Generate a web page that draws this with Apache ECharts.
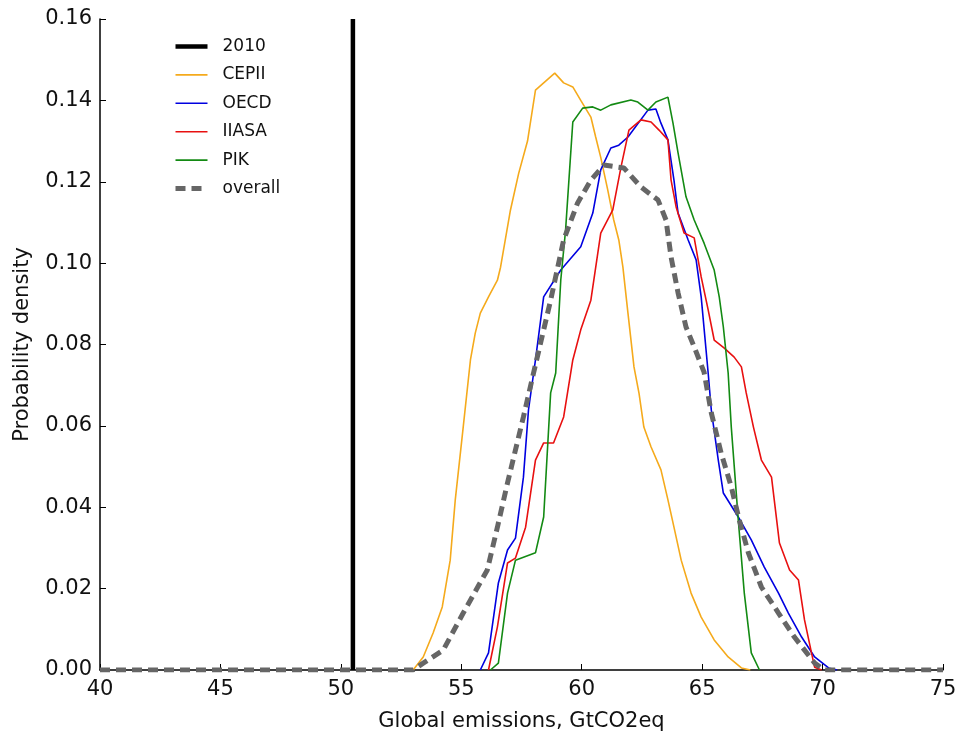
<!DOCTYPE html>
<html>
<head>
<meta charset="utf-8">
<script src="https://cdn.jsdelivr.net/npm/echarts@6/dist/echarts.min.js"></script>
<style>
html,body{margin:0;padding:0;background:#fff;}
#chart{width:960px;height:739px;}
</style>
</head>
<body>
<div id="chart"></div>
<script>
// Data: [emissions GtCO2eq, probability density]
const seriesNames = ['2010', 'CEPII', 'OECD', 'IIASA', 'PIK', 'overall'];
const xTicks = [40, 45, 50, 55, 60, 65, 70, 75];
const yTicks = [0, 0.02, 0.04, 0.06, 0.08, 0.10, 0.12, 0.14, 0.16];

const line2010 = [[50.5, 0], [50.5, 0.16]];

const cepii = [
  [53.0,0],[53.42,0.0032],[53.83,0.0091],[54.21,0.0155],[54.54,0.027],[54.75,0.0418],
  [55.08,0.0597],[55.38,0.0762],[55.58,0.0828],[55.79,0.0877],[56.13,0.0917],[56.5,0.0958],
  [56.63,0.099],[57.04,0.113],[57.38,0.122],[57.75,0.130],[58.08,0.1425],[58.88,0.1467],
  [59.25,0.1443],[59.63,0.1433],[59.96,0.140],[60.38,0.1359],[60.58,0.131],[60.79,0.126],
  [61.08,0.118],[61.33,0.1106],[61.54,0.1057],[61.71,0.099],[61.92,0.0877],[62.17,0.0745],
  [62.38,0.068],[62.58,0.0597],[62.88,0.0548],[63.29,0.0492],[63.58,0.0418],[63.83,0.0351],
  [64.13,0.027],[64.54,0.0189],[64.96,0.013],[65.5,0.0074],[66.08,0.0032],[66.63,0.0005],[67.0,0]
];

const oecd = [
  [55.79,0],[56.13,0.0042],[56.54,0.0214],[56.92,0.0295],[57.25,0.0324],[57.58,0.0474],
  [57.79,0.0639],[58.08,0.0762],[58.42,0.0917],[59.13,0.0983],[59.96,0.104],[60.46,0.1123],
  [60.79,0.1229],[61.21,0.1283],[61.54,0.129],[61.92,0.131],[62.75,0.1376],[63.08,0.1379],
  [63.29,0.1344],[63.58,0.1303],[63.83,0.1204],[64.0,0.1123],[64.42,0.1057],[64.75,0.1008],
  [64.96,0.0917],[65.25,0.073],[65.38,0.0639],[65.67,0.0516],[65.88,0.0435],[66.5,0.0376],
  [67.04,0.032],[67.58,0.0253],[68.17,0.0189],[68.58,0.014],[69.13,0.0081],[69.67,0.0032],
  [70.25,0.0005],[70.6,0]
];

const iiasa = [
  [56.13,0],[56.5,0.0106],[56.92,0.0263],[57.25,0.0275],[57.67,0.0351],[58.08,0.0516],
  [58.42,0.0558],[58.83,0.0558],[59.25,0.0622],[59.63,0.0762],[59.96,0.0836],[60.38,0.0909],
  [60.79,0.1074],[61.29,0.1131],[61.63,0.1236],[61.96,0.1327],[62.46,0.1352],[62.88,0.1347],
  [63.21,0.1327],[63.58,0.1303],[63.71,0.1204],[63.92,0.1138],[64.25,0.1074],[64.67,0.1062],
  [64.96,0.0966],[65.25,0.0885],[65.5,0.0811],[65.92,0.0791],[66.33,0.0769],[66.63,0.0745],
  [66.83,0.0681],[67.13,0.0597],[67.46,0.0516],[67.88,0.0474],[68.21,0.0312],[68.63,0.0246],
  [69.0,0.0221],[69.25,0.0123],[69.54,0.0042],[69.67,0.0007],[69.96,0]
];

const pik = [
  [56.21,0],[56.54,0.0017],[56.92,0.0189],[57.25,0.027],[58.08,0.0288],[58.42,0.0376],
  [58.71,0.0681],[58.92,0.073],[59.13,0.0958],[59.33,0.1081],[59.63,0.1347],[60.04,0.1381],
  [60.46,0.1384],[60.79,0.1376],[61.21,0.1389],[62.04,0.1401],[62.33,0.1396],[62.75,0.1376],
  [63.08,0.1396],[63.58,0.1408],[63.79,0.1344],[64.0,0.1271],[64.33,0.1163],[64.67,0.1106],
  [65.08,0.1049],[65.5,0.0983],[65.71,0.0917],[65.88,0.0843],[66.08,0.073],[66.21,0.0597],
  [66.5,0.0369],[66.75,0.0189],[67.04,0.0042],[67.38,0]
];

const overall = [
  [40,0],[53.0,0],[53.42,0.0017],[54.25,0.0049],[55.08,0.014],[56.08,0.0246],[56.5,0.0351],
  [56.92,0.046],[57.25,0.0541],[57.58,0.0622],[58.0,0.073],[58.71,0.0909],[59.25,0.1057],
  [59.83,0.1148],[60.38,0.1204],[60.92,0.1241],[61.75,0.1234],[62.46,0.1187],[63.17,0.1155],
  [63.5,0.1106],[63.71,0.1015],[64.0,0.0927],[64.33,0.0843],[64.67,0.0794],[65.08,0.0732],
  [65.38,0.0632],[65.79,0.0533],[66.21,0.045],[66.54,0.0369],[66.92,0.0288],[67.46,0.0204],
  [68.17,0.014],[68.83,0.0081],[69.67,0.0017],[70.08,0],[75,0]
];

const FONT = 'DejaVu Sans';
const chart = echarts.init(document.getElementById('chart'), null, {renderer: 'canvas'});

function lineSeries(name, data, color, width, type, z) {
  return {
    name: name, type: 'line', data: data, showSymbol: false, symbol: 'none',
    lineStyle: {color: color, width: width, type: type},
    itemStyle: {color: color},
    animation: false, z: z
  };
}

chart.setOption({
  animation: false,
  backgroundColor: '#fff',
  grid: {left: 100, right: 17, top: 19, bottom: 69, containLabel: false, outerBoundsMode: 'none'},
  legend: {
    data: seriesNames,
    orient: 'vertical',
    left: 173, top: 38, padding: 0,
    itemWidth: 32, itemHeight: 14, itemGap: 11.4,
    itemStyle: {opacity: 0},
    lineStyle: {width: 'inherit', type: 'inherit'},
    textStyle: {fontFamily: FONT, fontSize: 17, color: '#111', padding: [0, 0, 0, 10]}
  },
  xAxis: {
    type: 'value', min: xTicks[0], max: xTicks[xTicks.length - 1], interval: 5,
    name: 'Global emissions, GtCO2eq', nameLocation: 'middle', nameGap: 41,
    nameTextStyle: {fontFamily: FONT, fontSize: 21, color: '#111'},
    axisLine: {show: true, onZero: false, lineStyle: {color: '#000', width: 1.5}},
    axisTick: {show: true, inside: true, length: 6, lineStyle: {color: '#000', width: 1}},
    axisLabel: {fontFamily: FONT, fontSize: 21, color: '#111', margin: 9},
    splitLine: {show: false}
  },
  yAxis: {
    type: 'value', min: yTicks[0], max: yTicks[yTicks.length - 1], interval: 0.02,
    name: 'Probability density', nameLocation: 'middle', nameGap: 67,
    nameTextStyle: {fontFamily: FONT, fontSize: 21, color: '#111'},
    axisLine: {show: true, lineStyle: {color: '#000', width: 1.5}},
    axisTick: {show: true, inside: true, length: 6, lineStyle: {color: '#000', width: 1}},
    axisLabel: {fontFamily: FONT, fontSize: 21, color: '#111', margin: 8,
      formatter: v => v.toFixed(2)},
    splitLine: {show: false}
  },
  series: [
    lineSeries('2010', line2010, '#000000', 4.5, 'solid', 2),
    lineSeries('CEPII', cepii, '#f5aa1c', 1.6, 'solid', 3),
    lineSeries('OECD', oecd, '#0000e0', 1.6, 'solid', 4),
    lineSeries('IIASA', iiasa, '#e81010', 1.6, 'solid', 5),
    lineSeries('PIK', pik, '#138a13', 1.6, 'solid', 6),
    lineSeries('overall', overall, '#666666', 5, [10, 6], 7)
  ]
});
</script>
</body>
</html>
